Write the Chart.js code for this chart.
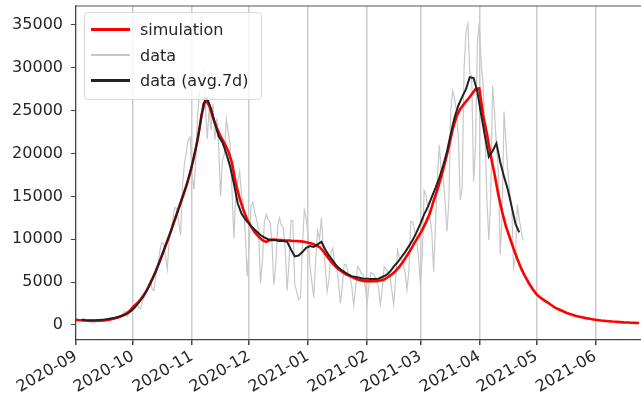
<!DOCTYPE html>
<html>
<head>
<meta charset="utf-8">
<script src="https://cdn.jsdelivr.net/npm/chart.js@4.4.0/dist/chart.umd.min.js"></script>
<style>
  body { margin: 0; background: #fff; }
  #marco { position: relative; width: 641px; height: 404px; }
  #leyenda {
    position: absolute; left: 84px; top: 12px; width: 178px; height: 88px;
    box-sizing: border-box; border: 1px solid #d8d8d8; border-radius: 4px;
    background: rgba(255,255,255,0.8); padding-top: 4px;
    font-family: "DejaVu Sans", sans-serif; font-size: 16px; color: #262626;
  }
  #leyenda .fila { height: 25.5px; display: flex; align-items: center; }
  #leyenda .muestra { display: inline-block; width: 39px; margin-left: 6px; margin-right: 10px; }
</style>
</head>
<body>
<div id="marco">
  <canvas id="casos"></canvas>
  <div id="leyenda"></div>
</div>
<script>
// Casos diarios: simulación vs datos (días contados desde 2020-09-01)
const mesesDias = [0, 30, 61, 91, 122, 153, 181, 212, 242, 273]
const mesesEtiquetas = ['2020-09', '2020-10', '2020-11', '2020-12', '2021-01', '2021-02', '2021-03', '2021-04', '2021-05', '2021-06']
const yTicks = [0, 5000, 10000, 15000, 20000, 25000, 30000, 35000]

// simulación: cada 2 días desde el día 0
const simulacion = [600, 560, 520, 490, 470, 470, 490, 520, 570, 640,
  750, 880, 1050, 1250, 1600, 2100, 2500, 3000, 3600, 4400,
  5300, 6300, 7400, 8600, 9800, 11000, 12300, 13600, 14900, 16200,
  17700, 19600, 21700, 24500, 26300, 25600, 24200, 23000, 22000, 21200,
  20300, 18900, 16500, 14800, 13400, 12300, 11500, 10800, 10300, 9900,
  9700, 9900, 9950, 9900, 9900, 9850, 9850, 9800, 9800, 9750,
  9700, 9600, 9500, 9300, 9100, 8600, 8000, 7400, 6900, 6500,
  6200, 5900, 5700, 5500, 5300, 5200, 5100, 5100, 5100, 5100,
  5200, 5300, 5600, 5900, 6300, 6800, 7400, 8100, 8800, 9600,
  10300, 11100, 12000, 13000, 14500, 15800, 17300, 19000, 20800, 22800,
  24300, 25200, 25800, 26300, 26900, 27500, 27600, 24500, 22300, 19800,
  17600, 15200, 13200, 11500, 10200, 8900, 7700, 6600, 5700, 4900,
  4200, 3600, 3200, 2900, 2600, 2300, 2000, 1800, 1600, 1400,
  1250, 1100, 1000, 900, 800, 720, 650, 590, 530, 480,
  440, 400, 370, 340, 310, 290, 270, 250, 230]

// datos diarios desde el día 0
const datos = [550, 630, 600, 650, 700, 620, 400, 500, 600, 580,
  550, 600, 550, 380, 450, 600, 700, 750, 800, 900,
  600, 750, 1000, 1100, 1200, 1400, 1600, 1000, 1300, 1700,
  2000, 2300, 2600, 2000, 1900, 2800, 3300, 4000, 4600, 5200,
  4200, 4000, 5800, 7000, 8500, 9600, 9500, 8000, 6500, 10000,
  11000, 12500, 13700, 13600, 12000, 10500, 16300, 18800, 20200, 21600,
  21900, 17500, 15800, 19400, 24700, 27100, 28500, 29800, 25500, 21700,
  25200, 22700, 25800, 21600, 24100, 20800, 15000, 19200, 19900, 24000,
  22500, 21100, 15700, 10100, 15400, 16700, 17900, 15200, 14000, 10600,
  5700, 9100, 13900, 14300, 13100, 12200, 11100, 4900, 7500, 12000,
  12900, 12300, 12000, 9700, 4700, 7000, 11500, 12500, 11600, 11300,
  8800, 4000, 7500, 12200, 12100, 4700, 3900, 3000, 3200, 9000,
  13400, 12500, 10400, 6900, 5000, 3200, 7700, 11000, 10000, 12500,
  9000, 6900, 3900, 5300, 8500, 9000, 7000, 6800, 5000, 2500,
  4500, 7100, 7000, 6200, 5600, 4500, 2300, 4400, 6800, 6500,
  6000, 5800, 4500, 2500, 4600, 6100, 6000, 5700, 5300, 4300,
  2400, 4200, 6800, 6500, 6200, 5700, 4100, 2400, 5200, 8700,
  7900, 7700, 7000, 6100, 4100, 6300, 12100, 12000, 11000, 10200,
  7900, 4800, 7900, 15700, 15200, 13500, 12700, 10900, 6200, 11900,
  17300, 21000, 18000, 17200, 14400, 10900, 14400, 25000, 27300, 26400,
  25000, 21800, 14600, 16000, 30000, 34200, 35100, 29300, 29000, 16700,
  20800, 32900, 35200, 30500, 28000, 22000, 14600, 9900, 14700, 27900,
  24800, 21000, 18000, 8200, 12700, 24900, 21300, 17900, 15400, 14200,
  6700, 7900, 14000, 12400, 11000, 9900]

// media 7 días: cada 2 días desde el día 3
const media7d = [620, 580, 560, 560, 570, 600, 640, 700, 780, 880,
  1000, 1150, 1350, 1650, 2050, 2600, 3200, 3900, 4800, 5800,
  6900, 8000, 9200, 10400, 11700, 13000, 14300, 15600, 17000, 18700,
  20600, 23000, 25800, 26400, 25200, 23500, 22000, 21300, 20000, 18500,
  16500, 14200, 13000, 12300, 11800, 11300, 10900, 10500, 10200, 10000,
  9900, 9900, 9800, 9800, 9700, 8800, 8000, 8100, 8500, 9000,
  9200, 9100, 9400, 9700, 8800, 8100, 7500, 6900, 6500, 6200,
  5900, 5700, 5600, 5500, 5400, 5400, 5350, 5350, 5400, 5600,
  5800, 6200, 6800, 7300, 7900, 8500, 9200, 9900, 10800, 11800,
  12900, 13800, 14900, 16000, 17200, 18600, 20200, 22300, 24200, 25600,
  26600, 27500, 28900, 28800, 27200, 24500, 22000, 19600, 20300, 21200,
  19000, 17300, 15800, 13800, 11800, 10800]

const puntos = (inicio, paso, vals) => vals.map((v, i) => ({x: inicio + i * paso, y: v}))

// marco superior del eje (estilo matplotlib)
const bordeSuperior = {
  id: 'bordeSuperior',
  afterDatasetsDraw(chart) {
    const {ctx, chartArea} = chart
    ctx.save()
    ctx.strokeStyle = '#555'
    ctx.lineWidth = 1.2
    ctx.beginPath()
    ctx.moveTo(chartArea.left, chartArea.top)
    ctx.lineTo(chartArea.right, chartArea.top)
    ctx.stroke()
    ctx.restore()
  }
}

Chart.defaults.font.family = '"DejaVu Sans", sans-serif'
Chart.defaults.font.size = 16
Chart.defaults.color = '#262626'

const ctx = document.getElementById('casos').getContext('2d')
const grafico = new Chart(ctx, {
  type: 'line',
  data: {
    datasets: [
      {label: 'simulation', data: puntos(0, 2, simulacion), borderColor: '#ff0000', borderWidth: 2.6, order: 1, muestra: 3},
      {label: 'data', data: puntos(0, 1, datos), borderColor: '#c8c8c8', borderWidth: 1.2, order: 2, muestra: 2},
      {label: 'data (avg.7d)', data: puntos(3, 2, media7d), borderColor: '#222222', borderWidth: 2, order: 0, muestra: 3}
    ]
  },
  options: {
    responsive: true,
    maintainAspectRatio: false,
    devicePixelRatio: 1,
    animation: false,
    layout: {padding: {top: 6, right: 0, left: 0, bottom: 0}},
    elements: {point: {radius: 0}, line: {tension: 0}},
    plugins: {legend: {display: false}, tooltip: {enabled: false}},
    scales: {
      x: {
        type: 'linear',
        min: 0,
        max: 297,
        afterBuildTicks: (eje) => { eje.ticks = mesesDias.map(v => ({value: v})) },
        afterFit: (eje) => { eje.height = 64; eje.paddingLeft = 0; eje.paddingRight = 0 },
        ticks: {
          autoSkip: false,
          maxRotation: 30,
          minRotation: 30,
          padding: 2,
          callback: (v) => mesesEtiquetas[mesesDias.indexOf(v)]
        },
        grid: {color: 'rgba(160,160,160,0.55)', lineWidth: 1.5, tickColor: '#444', tickLength: 5},
        border: {color: '#444', width: 1.2}
      },
      y: {
        min: -1750,
        max: 37200,
        afterBuildTicks: (eje) => { eje.ticks = yTicks.map(v => ({value: v})) },
        afterFit: (eje) => { eje.width = 76; eje.paddingTop = 0; eje.paddingBottom = 0 },
        ticks: {padding: 8, callback: (v) => String(v)},
        grid: {drawOnChartArea: false, tickColor: '#444', tickLength: 5},
        border: {color: '#444', width: 1.2}
      }
    }
  },
  plugins: [bordeSuperior]
})

// leyenda en la esquina superior izquierda
const leyenda = document.getElementById('leyenda')
grafico.data.datasets.forEach(ds => {
  const fila = document.createElement('div')
  fila.className = 'fila'
  fila.innerHTML = `<span class="muestra" style="height:${ds.muestra}px;background:${ds.borderColor}"></span><span>${ds.label}</span>`
  leyenda.append(fila)
})
</script>
</body>
</html>
